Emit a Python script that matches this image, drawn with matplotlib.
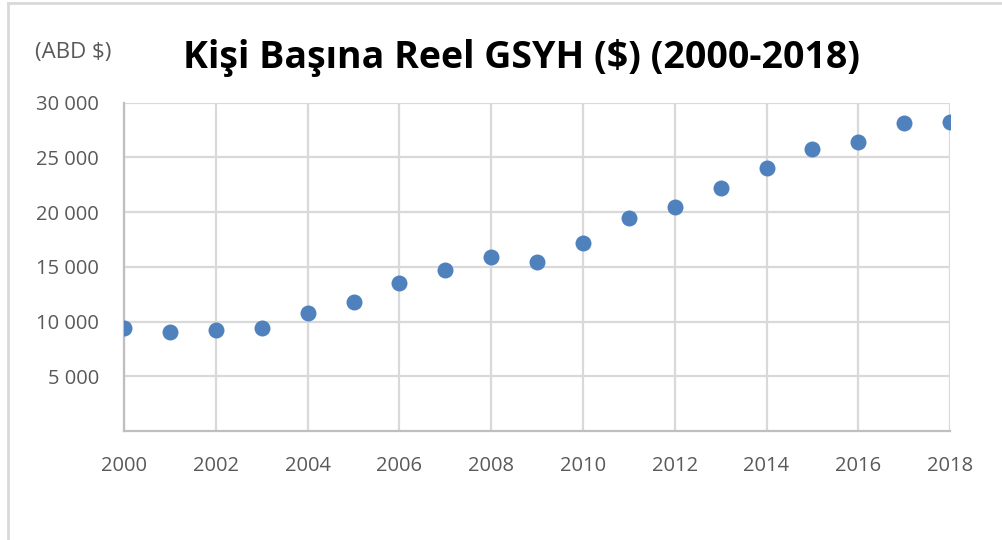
import matplotlib
matplotlib.use("Agg")
import matplotlib.pyplot as plt
from matplotlib.lines import Line2D
from matplotlib.ticker import FuncFormatter

# Kişi başına reel GSYH (ABD $), okunan değerler
years = [2000, 2001, 2002, 2003, 2004, 2005, 2006, 2007, 2008, 2009,
         2010, 2011, 2012, 2013, 2014, 2015, 2016, 2017, 2018]
gdp = [9450, 9000, 9230, 9450, 10800, 11800, 13500, 14700, 15900, 15400,
       17200, 19500, 20500, 22250, 24000, 25750, 26400, 28150, 28250]

x_ticks = [2000, 2002, 2004, 2006, 2008, 2010, 2012, 2014, 2016, 2018]
y_ticks = [5000, 10000, 15000, 20000, 25000, 30000]

grid_col = "#d9d9d9"
text_col = "#595959"

fig = plt.figure(figsize=(10.02, 5.40), dpi=100)
ax = fig.add_axes([0.1238, 0.2019, 0.8244, 0.6079])

ax.plot(years, gdp, 'o', color="#4f81bd", markersize=11.5, markeredgewidth=0, zorder=3)

ax.set_xlim(2000, 2018)
ax.set_ylim(0, 30000)
ax.set_xticks(x_ticks)
ax.set_yticks(y_ticks)
ax.yaxis.set_major_formatter(FuncFormatter(lambda v, p: f"{int(v):,}".replace(",", " ")))

ax.grid(True, color=grid_col, linewidth=1.6)
ax.set_axisbelow(True)
for s in ["top", "right"]:
    ax.spines[s].set_visible(False)
for s in ["left", "bottom"]:
    ax.spines[s].set_color("#bfbfbf")
    ax.spines[s].set_linewidth(1.6)

ax.tick_params(length=0, labelcolor=text_col, labelsize=14.5)
ax.tick_params(axis="x", pad=18)
ax.tick_params(axis="y", pad=18)
for lab in ax.get_xticklabels() + ax.get_yticklabels():
    lab.set_fontfamily("Open Sans")

fig.text(0.52, 0.893, "Kişi Başına Reel GSYH ($) (2000-2018)", ha="center", va="center",
         fontsize=27, fontweight="bold", family="Open Sans", color="black")
fig.text(0.035, 0.902, "(ABD $)", ha="left", va="center", fontsize=16,
         family="Open Sans", color=text_col)

# dış çerçeve (sadece üst ve sol görünüyor)
fig.add_artist(Line2D([0.008, 1.0], [0.994, 0.994], color=grid_col, linewidth=2))
fig.add_artist(Line2D([0.008, 0.008], [0.0, 0.994], color=grid_col, linewidth=2))

fig.savefig("out.png", dpi=100)
